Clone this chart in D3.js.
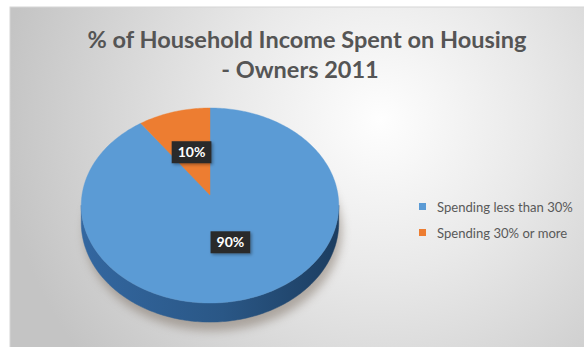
<!DOCTYPE html>
<html>
<head>
<meta charset="utf-8">
<script src="https://cdn.jsdelivr.net/npm/d3@7/dist/d3.min.js"></script>
<style>
  html, body { margin: 0; padding: 0; background: #ffffff; }
  svg { display: block; }
</style>
</head>
<body>
<svg id="chart" width="584" height="347"></svg>
<script>
// Household income spent on housing, owners, 2011
const titleLines = ["% of Household Income Spent on Housing", "- Owners 2011"];
const categories = ["Spending less than 30%", "Spending 30% or more"];
const values = [90, 10];
const topColors = ["#5B9BD5", "#ED7D31"];
const sideColors = [["#3367a0", "#2a5786", "#1c3d60"], ["#b35a1e", "#a04f18", "#7d3c10"]];

const svg = d3.select("#chart");
const defs = svg.append("defs");

// Chart area background: soft radial grey, brightest towards the upper right
const bg = defs.append("radialGradient").attr("id", "bgGrad")
  .attr("gradientUnits", "userSpaceOnUse")
  .attr("cx", 380).attr("cy", 120).attr("r", 380);
bg.append("stop").attr("offset", "0%").attr("stop-color", "#fefefe");
bg.append("stop").attr("offset", "40%").attr("stop-color", "#e9e9e9");
bg.append("stop").attr("offset", "100%").attr("stop-color", "#c4c4c4");

svg.append("rect").attr("x", 10).attr("y", 7).attr("width", 620).attr("height", 360)
  .attr("fill", "url(#bgGrad)").attr("stroke", "#d6d6d6").attr("stroke-width", 1);

// Title
const titleG = svg.append("g").attr("fill", "#555555")
  .style("font-family", "Lato, 'Open Sans', sans-serif").style("font-weight", 700);
const t1 = titleG.append("text").attr("x", 307).attr("y", 47.5).attr("text-anchor", "middle")
  .style("font-size", "22px").text(titleLines[0]);
const fitSize = 22 * 439 / t1.node().getComputedTextLength();
t1.style("font-size", fitSize + "px");
titleG.append("text").attr("x", 300).attr("y", 78).attr("text-anchor", "middle")
  .style("font-size", fitSize + "px").text(titleLines[1]);

// Perspective projection of the tilted pie disc
const cx = 210, cy = 195, W = 128;   // centre (apex) and half width
const A = 75.4, C = -0.1077;         // vertical projective terms
const depth = 17;
function project(theta, r, drop) {
  const u = r * Math.sin(theta), v = -r * Math.cos(theta);
  const w = 1 + C * v;
  return [cx + W * u / w, (A * v + cy) / w + drop / w];
}

const pie = d3.pie().sort(null).value(d => d.value);
const arcs = pie(categories.map((c, i) => ({ name: c, value: values[i], i })));
const line = d3.line();
const N = 360;

function arcPoints(a0, a1, r, drop) {
  const n = Math.max(2, Math.ceil(Math.abs(a1 - a0) / (2 * Math.PI) * N));
  return d3.range(n + 1).map(k => project(a0 + (a1 - a0) * k / n, r, drop));
}

// Silhouette extremes of the disc outline (where the side wall begins/ends)
const samples = d3.range(0, 2 * Math.PI, 2 * Math.PI / 720);
const thR = samples.reduce((b, t) => project(t, 1, 0)[0] > project(b, 1, 0)[0] ? t : b, samples[0]);
const thL = samples.reduce((b, t) => project(t, 1, 0)[0] < project(b, 1, 0)[0] ? t : b, samples[0]);

// Drop shadow under the pie
const sh = defs.append("filter").attr("id", "pieShadow")
  .attr("x", "-20%").attr("y", "-20%").attr("width", "140%").attr("height", "140%");
sh.append("feGaussianBlur").attr("stdDeviation", 5);
const shadowPts = arcPoints(0, 2 * Math.PI, 1.0, depth + 6);
svg.append("path").attr("d", line(shadowPts) + "Z")
  .attr("transform", "translate(3,2)")
  .attr("fill", "#7a6d60").attr("opacity", 0.5).attr("filter", "url(#pieShadow)");

// Side wall gradients
arcs.forEach((a, i) => {
  const g = defs.append("linearGradient").attr("id", "side" + i)
    .attr("gradientUnits", "userSpaceOnUse")
    .attr("x1", cx - W).attr("x2", cx + W).attr("y1", 0).attr("y2", 0);
  g.append("stop").attr("offset", "0%").attr("stop-color", sideColors[i][0]);
  g.append("stop").attr("offset", "55%").attr("stop-color", sideColors[i][1]);
  g.append("stop").attr("offset", "100%").attr("stop-color", sideColors[i][2]);
});

// Side walls: only the front arc between the silhouette extremes is visible
const sideG = svg.append("g");
arcs.forEach((a, i) => {
  const s = Math.max(a.startAngle, thR), e = Math.min(a.endAngle, thL);
  if (e <= s) return;
  const top = arcPoints(s, e, 1, 0);
  const bot = arcPoints(e, s, 1, depth);
  sideG.append("path").attr("d", line(top.concat(bot)) + "Z")
    .attr("fill", "url(#side" + i + ")")
    .attr("stroke", "url(#side" + i + ")").attr("stroke-width", 0.5);
});

// Top faces
const topG = svg.append("g");
arcs.forEach((a, i) => {
  const pts = [project(0, 0, 0)].concat(arcPoints(a.startAngle, a.endAngle, 1, 0));
  topG.append("path").attr("d", line(pts) + "Z")
    .attr("fill", topColors[i]).attr("stroke", topColors[i]).attr("stroke-width", 0.4);
});

// Data labels in dark boxes
const lf = defs.append("filter").attr("id", "lblShadow")
  .attr("x", "-30%").attr("y", "-30%").attr("width", "170%").attr("height", "170%");
lf.append("feDropShadow").attr("dx", 1.5).attr("dy", 1.5).attr("stdDeviation", 1.5)
  .attr("flood-color", "#000").attr("flood-opacity", 0.35);

const lblG = svg.append("g");
arcs.forEach((a, i) => {
  const mid = (a.startAngle + a.endAngle) / 2;
  const [lx, ly] = project(mid, 0.49, 0);
  const pct = Math.round(100 * (a.endAngle - a.startAngle) / (2 * Math.PI)) + "%";
  const g = lblG.append("g");
  const box = g.append("rect").attr("fill", "#2b2b2b").attr("filter", "url(#lblShadow)");
  const txt = g.append("text").attr("x", lx).attr("y", ly + 5).attr("text-anchor", "middle")
    .attr("fill", "#ffffff")
    .style("font-family", "Lato, 'Open Sans', sans-serif").style("font-weight", 700)
    .style("font-size", "14px").text(pct);
  const w = txt.node().getComputedTextLength() + 12;
  box.attr("x", lx - w / 2).attr("y", ly - 11).attr("width", w).attr("height", 22);
});

// Legend
const legG = svg.append("g").style("font-family", "Lato, 'Open Sans', sans-serif");
const leg = legG.selectAll("g").data(categories).join("g")
  .attr("transform", (d, i) => `translate(419, ${203 + i * 26})`);
leg.append("rect").attr("width", 7).attr("height", 7).attr("fill", (d, i) => topColors[i]);
const legTxt = leg.append("text").attr("x", 18).attr("y", 8.5).attr("fill", "#595959")
  .style("font-size", "12px").text(d => d);
const lw = legTxt.nodes()[0].getComputedTextLength();
legTxt.style("font-size", (12 * 136 / lw) + "px");
</script>
</body>
</html>
